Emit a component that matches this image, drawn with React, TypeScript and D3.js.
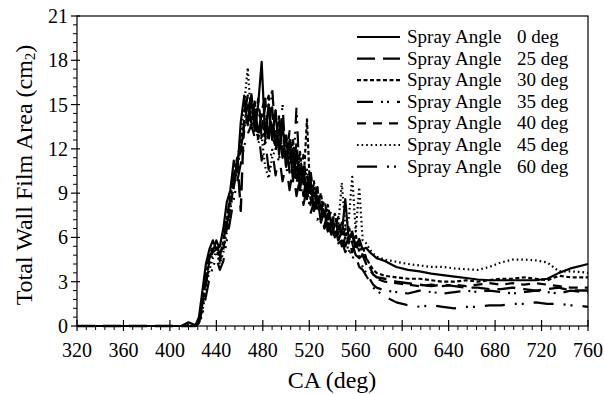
import React from "react";
import * as d3 from "d3";

// Crank angle grid (deg)
const CA: number[] = [320, 410, 416, 422, ...d3.range(425, 579, 3), ...d3.range(585, 756, 10), 760];

const X_TICKS = [320, 360, 400, 440, 480, 520, 560, 600, 640, 680, 720, 760];
const Y_TICKS = [0, 3, 6, 9, 12, 15, 18, 21];

const SERIES_NAMES = ["0", "25", "30", "35", "40", "45", "60"];

// values: [320,410,416,422] | 425..578 step 3 (52) | 585..755 step 10 (18) | 760
const A0 = [0, 0, 0.25, 0.05,
  0.6, 2.4, 4.2, 5.2, 5.8, 5.2, 5.4, 6.6, 8.4, 9.2, 11.2, 10.4, 13.8, 15.6, 13.6, 15.4, 13.2, 15.0, 17.9, 12.8,
  15.0, 12.6, 14.6, 11.6, 13.8, 10.8, 12.6, 9.8, 11.8, 9.2, 10.8, 8.6, 10.0, 7.8, 8.8, 7.0, 7.8, 6.4, 7.2, 6.0,
  6.8, 6.2, 8.6, 5.8, 6.4, 5.4, 5.9, 5.2, 5.3, 5.0, 4.8, 4.6,
  4.4, 4.0, 3.8, 3.7, 3.55, 3.45, 3.35, 3.25, 3.15, 3.1, 3.1, 3.1, 3.1, 3.1, 3.2, 3.6, 3.9, 4.1, 4.2];
const A25 = [0, 0, 0, 0,
  0.3, 1.5, 3.2, 4.6, 5.2, 5.6, 4.8, 5.6, 7.4, 8.6, 10.2, 11.4, 7.8, 14.4, 15.6, 13.8, 15.2, 12.8, 14.6, 15.4,
  12.6, 14.8, 11.8, 13.8, 11.4, 12.8, 10.4, 12.0, 9.6, 11.2, 8.8, 10.2, 8.2, 9.4, 7.6, 8.2, 6.8, 7.6, 6.2, 6.8,
  5.8, 6.4, 5.4, 6.0, 5.0, 5.6, 4.6, 4.8, 4.2, 3.8, 3.5, 3.3,
  3.2, 3.0, 2.9, 2.8, 2.7, 2.8, 2.7, 2.6, 2.6, 2.5, 2.5, 2.6, 2.5, 2.4, 2.5, 2.6, 2.4, 2.4, 2.4];
const A30 = [0, 0, 0, 0,
  0.4, 1.8, 3.4, 4.8, 5.4, 5.2, 4.6, 5.8, 7.2, 8.8, 9.8, 11.0, 12.4, 13.8, 15.0, 13.4, 15.0, 12.6, 14.4, 12.4,
  15.0, 12.8, 12.2, 14.2, 11.6, 13.0, 11.0, 12.6, 10.2, 11.8, 9.6, 14.0, 8.6, 9.8, 8.0, 9.0, 7.4, 8.2, 6.8, 7.6,
  6.2, 7.0, 6.0, 6.8, 5.6, 6.2, 5.0, 5.4, 4.6, 4.2, 3.8, 3.6,
  3.4, 3.3, 3.2, 3.2, 3.1, 3.0, 3.0, 3.1, 3.0, 3.1, 3.2, 3.2, 3.3, 3.2, 3.1, 3.4, 3.3, 3.3, 3.3];
const A35 = [0, 0, 0.1, 0,
  0.2, 1.2, 2.8, 4.2, 5.0, 5.8, 5.2, 5.4, 6.8, 8.2, 9.4, 10.8, 12.0, 13.4, 14.4, 15.6, 13.8, 15.0, 12.8, 14.2,
  12.4, 16.2, 12.6, 11.8, 15.0, 10.8, 12.4, 10.2, 14.8, 9.4, 10.4, 8.6, 9.8, 7.8, 9.4, 7.2, 7.8, 6.4, 7.0, 5.8,
  6.4, 5.4, 6.0, 5.0, 5.6, 4.8, 4.6, 4.0, 3.6, 3.2, 2.8, 2.6,
  2.4, 2.3, 2.2, 2.4, 2.3, 2.2, 2.3, 2.4, 2.3, 2.4, 2.3, 2.2, 2.3, 2.4, 2.3, 2.2, 2.4, 2.3, 2.3];
const A40 = [0, 0, 0, 0,
  0.3, 1.6, 3.0, 4.4, 5.0, 5.2, 4.4, 5.2, 6.6, 8.0, 9.6, 11.2, 11.8, 13.2, 14.2, 15.8, 13.8, 15.4, 13.4, 14.8,
  15.6, 13.0, 14.6, 12.0, 13.8, 11.2, 13.2, 10.6, 12.4, 10.0, 11.6, 9.2, 10.6, 8.6, 9.4, 7.8, 8.6, 7.2, 7.8, 6.6,
  7.4, 6.0, 6.6, 5.6, 6.2, 5.2, 5.6, 4.8, 4.6, 4.0, 3.5, 3.2,
  3.0, 2.9, 2.8, 2.7, 2.8, 2.7, 2.8, 2.7, 2.8, 2.9, 2.8, 2.9, 2.8, 2.9, 2.8, 2.7, 2.6, 2.6, 2.6];
const A45 = [0, 0, 0, 0,
  0.2, 1.0, 2.4, 3.8, 4.6, 5.0, 4.2, 5.0, 6.4, 7.8, 9.6, 11.0, 13.0, 15.0, 17.5, 14.0, 14.6, 12.4, 12.8, 10.8,
  10.0, 11.4, 12.0, 13.4, 11.8, 13.0, 11.2, 12.6, 10.4, 11.6, 9.6, 10.6, 9.0, 9.6, 8.2, 8.8, 7.4, 8.0, 7.0, 7.6,
  6.8, 9.7, 6.8, 7.2, 10.1, 6.4, 9.4, 5.8, 5.6, 5.2, 4.9, 4.7,
  4.5, 4.35, 4.2, 4.1, 4.0, 4.0, 3.9, 3.85, 3.8, 4.0, 4.3, 4.5, 4.5, 4.45, 4.3, 3.7, 3.7, 3.65, 3.6];
const A60 = [0, 0, 0, 0,
  0.1, 0.8, 2.0, 3.2, 4.0, 4.6, 3.8, 4.4, 5.8, 7.2, 8.6, 9.8, 11.0, 12.2, 13.0, 13.6, 12.8, 13.4, 11.2, 12.6,
  10.6, 12.0, 10.2, 11.6, 9.8, 11.0, 9.2, 10.6, 8.8, 10.0, 8.2, 9.4, 7.6, 8.4, 7.2, 7.6, 6.6, 7.0, 6.0, 6.6,
  5.6, 5.8, 5.0, 5.4, 4.6, 4.8, 4.0, 3.8, 3.4, 3.0, 2.6, 2.4,
  2.0, 1.6, 1.4, 1.3, 1.4, 1.3, 1.2, 1.3, 1.3, 1.4, 1.4, 1.5, 1.5, 1.6, 1.5, 1.5, 1.4, 1.35, 1.3];

const SERIES_VALUES = [A0, A25, A30, A35, A40, A45, A60];
const DASHES = ["none", "18,8", "4,2.5", "16,8,2,4,2,8", "9,7", "1.6,3", "20,10,2,5,2,10"];
const WIDTHS = [2.2, 2.4, 2.2, 2.2, 2.2, 2.2, 2.2];

const FONT = "'Liberation Serif', 'Times New Roman', serif";

export default function App() {
  const W = 604, H = 394;
  const x = d3.scaleLinear().domain([320, 760]).range([77, 588]);
  const y = d3.scaleLinear().domain([0, 21]).range([326, 16]);
  const line = d3.line<number>().x((_, i) => x(CA[i])).y((d) => y(d));
  const xMinor = d3.range(320, 761, 8).filter((v) => (v - 320) % 40 !== 0);
  const yMinor = d3.range(0, 21.01, 0.6).filter((v) => Math.abs(v / 3 - Math.round(v / 3)) > 1e-6);
  const drawOrder = [6, 5, 4, 3, 2, 1, 0];
  const legX0 = 357, legX1 = 400, legText = 407, legNum = 517, legY0 = 37, legDy = 21.6;

  return (
    <svg width={W} height={H} style={{ position: "absolute", left: 0, top: 0, background: "#fff" }} fontFamily={FONT}>
      <rect x={0} y={0} width={W} height={H} fill="#fff" />
      {/* data */}
      {drawOrder.map((si) => (
        <path key={si} d={line(SERIES_VALUES[si]) || ""} fill="none" stroke="#000" strokeWidth={WIDTHS[si]}
          strokeDasharray={DASHES[si]} strokeLinejoin="round" />
      ))}
      {/* frame */}
      <rect x={x(320)} y={y(21)} width={x(760) - x(320)} height={y(0) - y(21)} fill="none" stroke="#000" strokeWidth={1.2} />
      {/* x ticks */}
      {X_TICKS.map((t) => (
        <g key={"xt" + t}>
          <line x1={x(t)} x2={x(t)} y1={y(0) - 6} y2={y(0) + 5} stroke="#000" strokeWidth={1.2} />
          <text x={x(t)} y={357} fontSize={20} textAnchor="middle">{t}</text>
        </g>
      ))}
      {xMinor.map((t) => (
        <line key={"xm" + t} x1={x(t)} x2={x(t)} y1={y(0)} y2={y(0) + 4} stroke="#000" strokeWidth={1} />
      ))}
      {/* y ticks */}
      {Y_TICKS.map((t) => (
        <g key={"yt" + t}>
          <line x1={x(320) - 6} x2={x(320) + 3} y1={y(t)} y2={y(t)} stroke="#000" strokeWidth={1.2} />
          <text x={68} y={y(t) + 7} fontSize={20} textAnchor="end">{t}</text>
        </g>
      ))}
      {yMinor.map((t) => (
        <line key={"ym" + t.toFixed(1)} x1={x(320) - 4} x2={x(320)} y1={y(t)} y2={y(t)} stroke="#000" strokeWidth={1} />
      ))}
      {/* axis titles */}
      <text x={332} y={388} fontSize={24} textAnchor="middle">CA (deg)</text>
      <text transform={`translate(32,${175}) rotate(-90)`} fontSize={24} textAnchor="middle">
        Total Wall Film Area (cm<tspan fontSize={15} dy={3}>2</tspan><tspan dy={-3}>)</tspan>
      </text>
      {/* legend */}
      {SERIES_NAMES.map((n, i) => {
        const cy = legY0 + i * legDy;
        return (
          <g key={"lg" + n}>
            <rect x={legX0 - 2} y={cy - 9} width={legX1 - legX0 + 4} height={18} fill="#fff" />
            <line x1={legX0} x2={legX1} y1={cy} y2={cy} stroke="#000" strokeWidth={WIDTHS[i]} strokeDasharray={DASHES[i]} />
            <text x={legText} y={cy + 6} fontSize={19}>Spray Angle</text>
            <text x={legNum} y={cy + 6} fontSize={19}>{n} deg</text>
          </g>
        );
      })}
    </svg>
  );
}
